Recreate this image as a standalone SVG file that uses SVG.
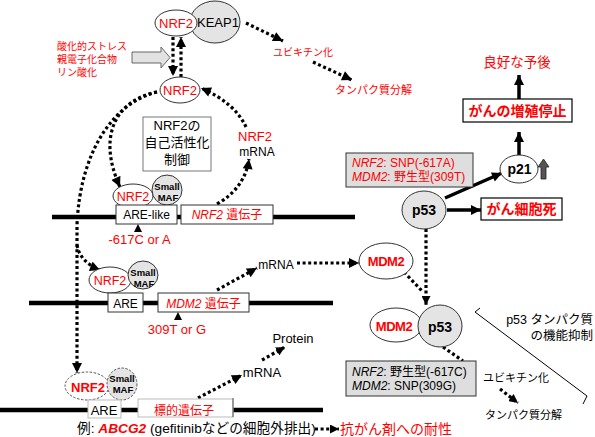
<svg xmlns="http://www.w3.org/2000/svg" width="595" height="437" viewBox="0 0 595 437">
<defs>
<style>
text{font-family:"Liberation Sans","Noto Sans CJK JP",sans-serif;}
.r{fill:#ff0000;}
.k{fill:#000;}
.c{text-anchor:middle;}
.b{font-weight:bold;}
.i{font-style:italic;}
.wh{fill:#fff;stroke:#333;stroke-width:1;}
.gy{fill:#e4e4e4;stroke:#333;stroke-width:1;}
.dash{stroke-dasharray:2.5 1.5;stroke:#555;}
.dna{stroke:#000;stroke-width:4.5;fill:none;}
.dot{fill:none;stroke:#000;stroke-width:3.2;stroke-dasharray:3 2.6;}
.sol{fill:none;stroke:#000;stroke-width:3.5;}
.box{fill:#fff;stroke:#333;stroke-width:1;}
.gbox{fill:#dedede;stroke:#333;stroke-width:1;}
</style>
<marker id="ah" viewBox="0 0 10 10" refX="10" refY="5" markerWidth="11" markerHeight="10" markerUnits="userSpaceOnUse" orient="auto">
<path d="M0,0 L10,5 L0,10 Z" fill="#000" stroke="none"/>
</marker>
<marker id="ahs" viewBox="0 0 10 10" refX="10" refY="5" markerWidth="9" markerHeight="9" markerUnits="userSpaceOnUse" orient="auto">
<path d="M0,0 L10,5 L0,10 Z" fill="#000" stroke="none"/>
</marker>
</defs>
<rect width="595" height="437" fill="#fff"/>

<!-- DNA lines -->
<g id="dna">
<line class="dna" x1="52" y1="217" x2="355" y2="217"/>
<line class="dna" x1="29" y1="303" x2="333" y2="303"/>
<line class="dna" x1="0" y1="410" x2="323" y2="410"/>
</g>

<!-- connectors -->
<g id="connectors">
<path class="dot" d="M173,37 L173,76" marker-end="url(#ah)"/>
<path class="dot" d="M181,77 L181,37" marker-end="url(#ah)"/>
<path class="dot" d="M246,23 L283,41" marker-end="url(#ah)"/>
<path class="dot" d="M313,62 L352,80" marker-end="url(#ah)"/>
<path class="dot" d="M157,92 C120,99 95,132 120,187" marker-end="url(#ah)"/>
<path class="dot" d="M157,92 C115,102 80,150 77,225 L77,373" marker-end="url(#ah)"/>
<path class="dot" d="M77,245 Q80,262 100,270" marker-end="url(#ah)"/>
<path class="dot" d="M217,204 Q245,188 249,159" marker-end="url(#ah)"/>
<path class="dot" d="M246,127 Q235,103 201,88" marker-end="url(#ah)"/>
<path class="dot" d="M217,290 L257,268" marker-end="url(#ah)"/>
<path class="dot" d="M297,263 L359,263" marker-end="url(#ah)"/>
<path class="dot" d="M426,229 L426,305" marker-end="url(#ahs)"/>
<path class="dot" d="M404,272 L423,292"/>
<path class="dot" d="M443,347 L463,361"/>
<path class="dot" d="M500,389 L518,403" marker-end="url(#ahs)"/>
<path class="dot" d="M198,398 L242,375" marker-end="url(#ah)"/>
<path class="dot" d="M262,360 L285,347" marker-end="url(#ahs)"/>
<path class="dot" d="M315,429 L339,429" marker-end="url(#ahs)"/>
<path class="sol" d="M445,198 L502,173" marker-end="url(#ah)"/>
<path class="sol" d="M447,210 L481,210" marker-end="url(#ah)"/>
<path class="sol" d="M519,155 L519,132" marker-end="url(#ah)"/>
<path class="sol" d="M519,99 L519,75" marker-end="url(#ah)"/>
<polyline points="480,308 475,312 587,396 583,404" fill="none" stroke="#000" stroke-width="1"/>
</g>

<!-- top complex -->
<g id="keap1">
<ellipse class="gy" cx="215" cy="22" rx="25" ry="21"/>
<text x="218" y="27" font-size="13" class="k c">KEAP1</text>
</g>
<g id="nrf2-top">
<ellipse class="wh" cx="176" cy="23" rx="21" ry="13"/>
<text x="176" y="28" font-size="13" class="r c">NRF2</text>
</g>

<g id="stress">
<polygon points="132,52 161,52 161,47 170,57.5 161,68 161,63 132,63" fill="#e2e2e2" stroke="#666" stroke-width="1"/>
<text x="57" y="50" font-size="10" class="r">酸化的ストレス</text>
<text x="57" y="63" font-size="10" class="r">親電子化合物</text>
<text x="57" y="76" font-size="10" class="r">リン酸化</text>
</g>

<g id="ubiq-top">
<text x="273" y="56" font-size="10" class="r">ユビキチン化</text>
<text x="335" y="94" font-size="11" class="r">タンパク質分解</text>
</g>

<g id="nrf2-mid">
<ellipse class="wh" cx="180" cy="90" rx="20" ry="13"/>
<text x="180" y="95" font-size="13" class="r c">NRF2</text>
</g>

<g id="autoreg">
<rect x="143" y="117" width="68" height="54" fill="#fff" stroke="#777" stroke-width="1"/>
<text x="177" y="130" font-size="13" class="k c">NRF2の</text>
<text x="177" y="147" font-size="13" class="k c">自己活性化</text>
<text x="177" y="164" font-size="13" class="k c">制御</text>
</g>

<g id="nrf2-mrna">
<text x="255" y="141" font-size="13" class="r c">NRF2</text>
<text x="257" y="156" font-size="12" class="k c">mRNA</text>
</g>

<!-- ARE-like row -->
<g id="nrf2-arelike">
<ellipse class="wh" cx="133" cy="196" rx="20" ry="12"/>
<text x="133" y="201" font-size="12.5" class="r c">NRF2</text>
</g>
<g id="maf-arelike">
<ellipse class="gy" cx="167" cy="190" rx="15" ry="15"/>
<text x="167" y="190" font-size="9.5" class="k c b">Small</text>
<text x="168" y="201" font-size="9.5" class="k c b">MAF</text>
</g>
<g id="arelike">
<rect class="box" x="116" y="205" width="61" height="19"/>
<text x="146.5" y="219" font-size="12" class="k c">ARE-like</text>
</g>
<g id="nrf2-gene">
<rect class="box" x="181" y="205" width="92" height="19"/>
<text x="227" y="219" font-size="12" class="r c"><tspan class="i">NRF2</tspan> 遺伝子</text>
</g>
<g id="snp617">
<polygon points="138,224 134,232 142,232" fill="#000"/>
<text x="139.5" y="244" font-size="13" class="r c">-617C or A</text>
</g>

<!-- MDM2 row -->
<g id="nrf2-are">
<ellipse class="wh" cx="110" cy="280" rx="21" ry="13"/>
<text x="110" y="285" font-size="12.5" class="r c">NRF2</text>
</g>
<g id="maf-are">
<ellipse class="gy" cx="143" cy="275" rx="15" ry="14"/>
<text x="143" y="276" font-size="9.5" class="k c b">Small</text>
<text x="144" y="287" font-size="9.5" class="k c b">MAF</text>
</g>
<g id="are">
<rect class="box" x="108" y="293" width="35" height="19"/>
<text x="125.5" y="307.5" font-size="12" class="k c">ARE</text>
</g>
<g id="mdm2-gene">
<rect class="box" x="158" y="293" width="91" height="19"/>
<text x="203.5" y="307.5" font-size="12" class="r c"><tspan class="i">MDM2</tspan> 遺伝子</text>
</g>
<g id="snp309">
<polygon points="178,312 174,320 182,320" fill="#000"/>
<text x="177" y="334" font-size="13" class="r c">309T or G</text>
</g>
<g id="mdm2-mrna">
<text x="276" y="269" font-size="12" class="k c">mRNA</text>
</g>
<g id="mdm2">
<ellipse class="wh" cx="386" cy="261" rx="27" ry="18"/>
<text x="386" y="266" font-size="13" class="r c b" letter-spacing="-0.5">MDM2</text>
</g>

<!-- bottom row -->
<g id="nrf2-bottom">
<ellipse cx="87" cy="386" rx="22" ry="14" fill="#fff" class="dash"/>
<text x="88" y="392" font-size="13" class="r c b">NRF2</text>
</g>
<g id="maf-bottom">
<ellipse cx="122" cy="384" rx="15" ry="16" fill="#e4e4e4" class="dash"/>
<text x="122" y="382" font-size="9.5" class="k c b">Small</text>
<text x="123" y="393" font-size="9.5" class="k c b">MAF</text>
</g>
<g id="are-bottom">
<rect x="88" y="400" width="33" height="18" fill="#fff" stroke="#bbb" stroke-width="1"/>
<text x="104" y="415" font-size="13" class="k c">ARE</text>
</g>
<g id="target-gene">
<rect x="138" y="399" width="95" height="18" fill="#fff" stroke="#bbb" stroke-width="1"/>
<line x1="233" y1="398" x2="233" y2="417" stroke="#555" stroke-width="1"/>
<text x="184" y="415" font-size="12" class="r c">標的遺伝子</text>
</g>
<g id="target-mrna">
<text x="262" y="377" font-size="13" class="k c">mRNA</text>
<text x="293" y="343" font-size="13" class="k c">Protein</text>
</g>
<g id="example">
<text x="77" y="433" font-size="13.7" class="k">例: <tspan class="r b i">ABCG2</tspan> (gefitinibなどの細胞外排出)</text>
<text x="340" y="434" font-size="14" class="r">抗がん剤への耐性</text>
</g>

<!-- right side -->
<g id="prognosis">
<text x="517" y="67" font-size="13.5" class="r c">良好な予後</text>
</g>
<g id="growth-stop">
<rect x="463" y="99" width="109" height="23" fill="#fff" stroke="#000" stroke-width="1.2"/>
<text x="517.5" y="116" font-size="14" class="r c b">がんの増殖停止</text>
</g>
<g id="box-snp-a">
<rect class="gbox" x="346" y="153" width="127" height="34"/>
<text x="352" y="167" font-size="12" class="r"><tspan class="i">NRF2</tspan>: SNP(-617A)</text>
<text x="352" y="181" font-size="12" class="r"><tspan class="i">MDM2</tspan>: 野生型(309T)</text>
</g>
<g id="p21">
<ellipse class="wh" cx="519" cy="169" rx="19" ry="14"/>
<text x="519.5" y="174" font-size="14" class="k c b">p21</text>
<polygon points="541,179 546,179 546,167 549,167 543.5,159 538,167 541,167" fill="#555" stroke="#222" stroke-width="0.8"/>
</g>
<g id="p53">
<ellipse class="gy" cx="424" cy="210" rx="22" ry="19"/>
<text x="424" y="215" font-size="14" class="k c b">p53</text>
</g>
<g id="apoptosis">
<rect x="481" y="198" width="81" height="22" fill="#fff" stroke="#000" stroke-width="1.2"/>
<text x="521.5" y="214" font-size="14" class="r c b">がん細胞死</text>
</g>
<g id="mdm2-p53">
<ellipse class="wh" cx="396" cy="325" rx="26" ry="17"/>
<text x="394" y="331" font-size="13" class="r c b" letter-spacing="-0.5">MDM2</text>
<ellipse class="gy" cx="440" cy="326" rx="22" ry="21"/>
<text x="440" y="332" font-size="14" class="k c b">p53</text>
</g>
<g id="box-snp-g">
<rect class="gbox" x="346" y="361" width="130" height="35"/>
<text x="352" y="376" font-size="12" class="k"><tspan class="i">NRF2</tspan>: 野生型(-617C)</text>
<text x="352" y="390" font-size="12" class="k"><tspan class="i">MDM2</tspan>: SNP(309G)</text>
</g>
<g id="p53-inhibit">
<text x="593" y="324" font-size="12.5" class="k" text-anchor="end">p53 タンパク質</text>
<text x="593" y="340" font-size="12.5" class="k" text-anchor="end">の機能抑制</text>
</g>
<g id="ubiq-bottom">
<text x="483" y="382" font-size="11" class="k">ユビキチン化</text>
<text x="485" y="419" font-size="11" class="k">タンパク質分解</text>
</g>
</svg>
